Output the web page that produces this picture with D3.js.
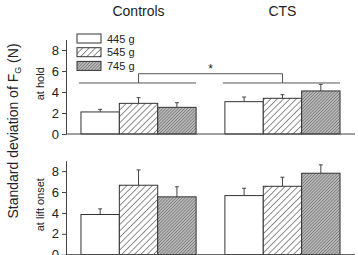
<!DOCTYPE html>
<html>
<head>
<meta charset="utf-8">
<script src="https://cdn.jsdelivr.net/npm/d3@7"></script>
<style>
  body { margin: 0; background: #fff; }
  text { font-family: Arial, "Liberation Sans", sans-serif; fill: #222; }
</style>
</head>
<body>
<div id="chart"></div>
<script>
var svgWidth = 358;
var svgHeight = 255;

// data
var groups = ["Controls", "CTS"];
var weights = ["445 g", "545 g", "745 g"];
var yTicks = [0, 2, 4, 6, 8];

// at hold: mean and upper error per group / weight
var holdMean = [[2.1, 2.92, 2.54], [3.08, 3.4, 4.1]];
var holdErr = [[0.25, 0.54, 0.44], [0.44, 0.34, 0.63]];
// at lift onset
var liftMean = [[3.85, 6.65, 5.54], [5.66, 6.55, 7.8]];
var liftErr = [[0.54, 1.47, 0.96], [0.7, 0.87, 0.8]];

var panelLabels = ["at hold", "at lift onset"];
var sigLevel = [4.86, 5.74];

var svg = d3.select("#chart")
  .append("svg")
  .attr("width", svgWidth)
  .attr("height", svgHeight);

var defs = svg.append("defs");

// light hatch: thin diagonals on white
var p1 = defs.append("pattern")
  .attr("id", "hatch1")
  .attr("patternUnits", "userSpaceOnUse")
  .attr("width", 4.5).attr("height", 4.5)
  .attr("patternTransform", "rotate(45)");
p1.append("rect").attr("width", 4.5).attr("height", 4.5).attr("fill", "#fff");
p1.append("line").attr("x1", 0).attr("y1", 0).attr("x2", 0).attr("y2", 4.5)
  .attr("stroke", "#333").attr("stroke-width", 1.1);

// dense hatch on gray
var p2 = defs.append("pattern")
  .attr("id", "hatch2")
  .attr("patternUnits", "userSpaceOnUse")
  .attr("width", 2.2).attr("height", 2.2)
  .attr("patternTransform", "rotate(45)");
p2.append("rect").attr("width", 2.2).attr("height", 2.2).attr("fill", "#b8b8b8");
p2.append("line").attr("x1", 0).attr("y1", 0).attr("x2", 0).attr("y2", 2.2)
  .attr("stroke", "#555").attr("stroke-width", 0.9);

var fills = ["#fff", "url(#hatch1)", "url(#hatch2)"];

var x0 = d3.scaleBand()
  .domain(groups)
  .range([66, 355])
  .paddingInner(0.2)
  .paddingOuter(0.104);

var x1 = d3.scaleBand()
  .domain(weights)
  .range([0, x0.bandwidth()]);

var panels = [
  { mean: holdMean, err: holdErr, range: [134, 39.5] },
  { mean: liftMean, err: liftErr, range: [254.7, 160.7] }
];

panels.forEach(function(p, pi) {
  var y = d3.scaleLinear().domain([0, 9]).range(p.range);

  var g = svg.append("g");

  // bars
  groups.forEach(function(grp, gi) {
    weights.forEach(function(w, wi) {
      var xs = x0(grp) + x1(w);
      var v = p.mean[gi][wi];
      var e = p.err[gi][wi];
      var cx = xs + x1.bandwidth() / 2;
      g.append("line")
        .attr("x1", cx).attr("x2", cx)
        .attr("y1", y(v)).attr("y2", y(v + e))
        .attr("stroke", "#444").attr("stroke-width", 1);
      g.append("line")
        .attr("x1", cx - 2).attr("x2", cx + 2)
        .attr("y1", y(v + e)).attr("y2", y(v + e))
        .attr("stroke", "#444").attr("stroke-width", 1);
      g.append("rect")
        .attr("x", xs)
        .attr("y", y(v))
        .attr("width", x1.bandwidth())
        .attr("height", y(0) - y(v))
        .attr("fill", fills[wi])
        .attr("stroke", "#333")
        .attr("stroke-width", 1);
    });
  });

  // axes
  var leftAxis = d3.axisLeft(y).tickValues(yTicks).tickSize(4).tickSizeOuter(0).tickPadding(3);
  var ax = g.append("g")
    .attr("transform", "translate(66,0)")
    .call(leftAxis);
  ax.select(".domain").attr("stroke", "#444");
  ax.selectAll(".tick line").attr("stroke", "#444");
  ax.selectAll(".tick text")
    .attr("font-size", "13px")
    .attr("fill", "#222")
    .style("font-family", "Arial, 'Liberation Sans', sans-serif");

  g.append("line")
    .attr("x1", 66).attr("x2", 355)
    .attr("y1", y(0)).attr("y2", y(0))
    .attr("stroke", "#444").attr("stroke-width", 1);

  g.append("text")
    .attr("transform", "translate(" + 44 + "," + ((p.range[0] + p.range[1]) / 2 - 3) + ") rotate(-90)")
    .attr("text-anchor", "middle")
    .attr("font-size", "11px")
    .text(panelLabels[pi]);

  if (pi === 0) {
    // significance bracket
    groups.forEach(function(grp) {
      g.append("line")
        .attr("x1", x0(grp) - 2).attr("x2", x0(grp) + x0.bandwidth())
        .attr("y1", y(sigLevel[0])).attr("y2", y(sigLevel[0]))
        .attr("stroke", "#555").attr("stroke-width", 1);
    });
    var ca = x0("Controls") + x0.bandwidth() / 2;
    var cb = x0("CTS") + x0.bandwidth() / 2;
    g.append("path")
      .attr("d", "M" + ca + "," + y(sigLevel[0]) + "V" + y(sigLevel[1]) + "H" + cb + "V" + y(sigLevel[0]))
      .attr("fill", "none")
      .attr("stroke", "#555").attr("stroke-width", 1);
    g.append("text")
      .attr("x", (ca + cb) / 2)
      .attr("y", y(sigLevel[1]) - 1)
      .attr("text-anchor", "middle")
      .attr("font-size", "12px")
      .text("*");

    // legend
    var leg = g.append("g").attr("transform", "translate(77,34)");
    weights.forEach(function(w, wi) {
      leg.append("rect")
        .attr("x", 0).attr("y", wi * 13.7)
        .attr("width", 24).attr("height", 9)
        .attr("fill", fills[wi])
        .attr("stroke", "#333").attr("stroke-width", 1);
      leg.append("text")
        .attr("x", 30).attr("y", wi * 13.7 + 8.5)
        .attr("font-size", "11px")
        .text(w);
    });
  }
});

// group titles
groups.forEach(function(grp) {
  svg.append("text")
    .attr("x", x0(grp) + x0.bandwidth() / 2)
    .attr("y", 16)
    .attr("text-anchor", "middle")
    .attr("font-size", "14px")
    .text(grp);
});

// y axis title
var yt = svg.append("text")
  .attr("transform", "translate(18,131) rotate(-90)")
  .attr("text-anchor", "middle")
  .attr("font-size", "14px");
yt.append("tspan").text("Standard deviation of F");
yt.append("tspan").attr("font-size", "9px").attr("dy", 3).text("G");
yt.append("tspan").attr("dy", -3).text("  (N)");
</script>
</body>
</html>
